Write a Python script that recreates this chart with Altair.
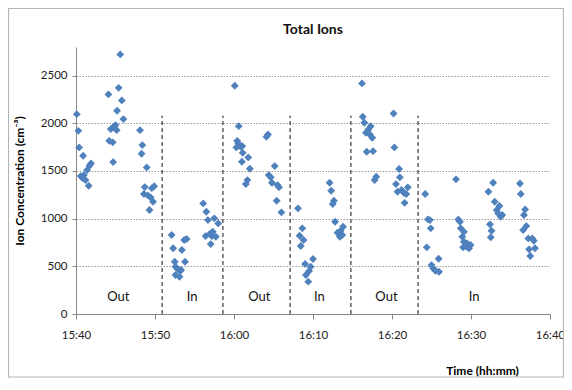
import altair as alt
import pandas as pd

# minutes after 15:40 and total ion concentration (cm^-3)
time_min = [
    0.1, 0.3, 0.4, 0.9, 1.9, 1.7, 1.4, 0.6, 1.0, 0.8, 1.2, 1.6,
    5.6, 4.1, 5.4, 5.8, 5.2, 6.0, 4.4, 4.8, 5.0, 5.15, 4.7, 4.2, 4.65, 4.7,
    8.1, 8.4, 8.3, 8.95, 8.7, 9.9, 9.6, 8.6, 9.1, 9.45, 9.75, 9.3,
    12.1, 12.3, 13.7, 14.0, 13.4, 13.8, 12.5, 12.6, 12.9, 13.2, 13.3, 12.6, 13.1,
    16.1, 16.5, 16.7, 17.5, 18.0, 16.4, 17.3, 17.2, 17.7, 16.9, 17.05,
    20.1, 20.6, 20.4, 20.55, 21.05, 20.3, 20.85, 21.1, 21.8, 21.0, 22.0, 21.7, 21.5,
    24.3, 24.1, 25.15, 24.4, 24.65, 24.8, 25.5, 25.7, 25.4, 26.0,
    28.1, 28.65, 28.3, 28.8, 28.45, 29.0, 30.0, 29.7, 29.5, 29.1, 29.4,
    32.1, 32.3, 32.65, 32.5, 32.8, 33.1, 33.5, 33.8, 33.4, 33.7,
    36.2, 36.3, 36.5, 37.3, 37.0, 36.7, 37.2, 37.5, 36.8, 37.6, 38.0, 37.8,
    40.2, 40.3, 40.9, 41.0, 40.5, 40.7, 41.2, 41.5, 42.0, 41.8, 41.6,
    44.2, 44.55, 44.8, 44.9, 44.4, 45.9, 45.0, 45.2, 45.5, 45.95,
    48.1, 48.4, 48.6, 48.7, 49.1, 48.9, 49.1, 49.0, 49.5, 49.75, 49.4, 49.95,
    52.8, 52.2, 53.0, 53.6, 53.25, 53.45, 53.95, 53.75, 52.4, 52.6, 52.5,
    56.2, 56.3, 56.85, 56.7, 57.0, 56.6, 57.25, 57.75, 57.95, 58.1, 57.35, 57.5,
]
ion_conc = [
    2096, 1921, 1747, 1659, 1579, 1554, 1509, 1446, 1457, 1428, 1404, 1345,
    2722, 2303, 2372, 2240, 2131, 2044, 1939, 1963, 1981, 1928, 1957, 1816, 1800, 1593,
    1928, 1771, 1680, 1537, 1331, 1341, 1320, 1258, 1244, 1223, 1177, 1090,
    828, 689, 776, 786, 671, 548, 548, 496, 468, 454, 461, 409, 391,
    1160, 1072, 985, 1003, 950, 817, 862, 817, 810, 838, 733,
    2393, 1970, 1816, 1789, 1761, 1747, 1754, 1690, 1642, 1596, 1523, 1404, 1362,
    1883, 1858, 1551, 1457, 1433, 1376, 1352, 1328, 1187, 1066,
    1108, 898, 821, 776, 713, 524, 577, 496, 451, 409, 339,
    1376, 1292, 1187, 1153, 967, 852, 873, 915, 810, 828,
    2418, 2068, 2005, 1970, 1935, 1900, 1883, 1848, 1701, 1708, 1439, 1404,
    2103, 1747, 1520, 1433, 1362, 1282, 1300, 1271, 1328, 1258, 1166,
    1258, 992, 985, 898, 699, 580, 513, 479, 454, 443,
    1412, 992, 967, 898, 862, 810, 758, 699, 741, 689, 706, 723,
    1376, 1282, 1177, 1132, 1090, 1055, 1038, 1020, 940, 873, 804,
    1369, 1258, 1097, 1038, 922, 880, 793, 793, 768, 689, 678, 608,
]

divider_times = [10.9, 18.6, 27.1, 34.8, 43.3]
divider_top = 2080

region_labels = ["Out", "In", "Out", "In", "Out", "In"]
region_times = [5.35, 14.7, 23.2, 30.8, 39.3, 50.4]
region_label_y = 181

x_ticks = [0, 10, 20, 30, 40, 50, 60]
x_tick_labels = ["15:40", "15:50", "16:00", "16:10", "16:20", "16:30", "16:40"]
y_ticks = [0, 500, 1000, 1500, 2000, 2500]

FONT = "Lato"
W, H = 474, 267

pts = pd.DataFrame({"t": time_min, "v": ion_conc})
divs = pd.DataFrame({"t": divider_times, "y0": [0] * len(divider_times),
                     "y1": [divider_top] * len(divider_times)})
labs = pd.DataFrame({"t": region_times, "v": [region_label_y] * len(region_times),
                     "label": region_labels})

label_expr = "[" + ",".join(f"'{l}'" for l in x_tick_labels) + "][round(datum.value/10)]"

xscale = alt.Scale(domain=[0, 60], nice=False, zero=False)
yscale = alt.Scale(domain=[0, 2800], nice=False)

xaxis = alt.Axis(values=x_ticks, labelExpr=label_expr, grid=False,
                 title="Time (hh:mm)", titleX=406, titleY=56, titleAlign="center",
                 titleBaseline="middle", titleFontWeight="bold", titleFontSize=12,
                 titleFont=FONT, labelFont=FONT, labelFontSize=11.5, labelColor="#222",
                 tickSize=5, tickColor="#868686", domainColor="#868686",
                 labelPadding=10, labelFlush=False)
yaxis = alt.Axis(values=y_ticks, format="d", grid=True, gridDash=[1.5, 1.5],
                 gridColor="#9a9a9a",
                 title="Ion Concentration (cm⁻³)", titleFontWeight="bold", titleFontSize=12,
                 titleFont=FONT, labelFont=FONT, labelFontSize=11.5, labelColor="#222",
                 titlePadding=14, tickSize=4, tickColor="#868686", domainColor="#868686",
                 labelPadding=5)

points = alt.Chart(pts).mark_point(shape="diamond", filled=True, size=62,
                                   color="#4F81BD", opacity=1).encode(
    x=alt.X("t:Q", scale=xscale, axis=xaxis),
    y=alt.Y("v:Q", scale=yscale, axis=yaxis),
)

rules = alt.Chart(divs).mark_rule(color="#111", strokeDash=[4, 3], strokeWidth=1).encode(
    x=alt.X("t:Q", scale=xscale),
    y=alt.Y("y0:Q", scale=yscale),
    y2="y1:Q",
)

texts = alt.Chart(labs).mark_text(font=FONT, fontSize=13, color="#111",
                                  baseline="middle", align="center").encode(
    x=alt.X("t:Q", scale=xscale),
    y=alt.Y("v:Q", scale=yscale),
    text="label:N",
)

frame = alt.Chart(pd.DataFrame({"a": [0]})).mark_rect(
    fill="transparent", stroke="#b5b5b5", strokeWidth=1.2).encode(
    x=alt.value(-67.5), x2=alt.value(487.5), y=alt.value(-38.5), y2=alt.value(330))

chart = alt.layer(frame, rules, points, texts).properties(
    width=W, height=H,
    title=alt.TitleParams("Total Ions", font=FONT, fontSize=14, fontWeight="bold",
                          anchor="middle", frame="group", offset=0, dy=29,
                          color="#111"),
    autosize=alt.AutoSizeParams(type="none"),
    padding={"left": 68, "top": 39, "right": 14, "bottom": 64},
).configure_view(strokeWidth=0)

chart.save("out.html", embed_options={"renderer": "svg", "actions": False})
